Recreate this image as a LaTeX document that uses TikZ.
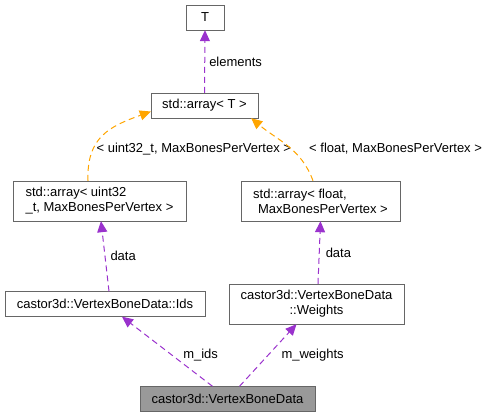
\documentclass[tikz,border=0pt]{standalone}
\usepackage{fontspec}
\setmainfont{Liberation Sans}
\usepackage{tikz}
\usetikzlibrary{arrows.meta,positioning}
\definecolor{edgepurple}{HTML}{9A32CD}
\definecolor{edgeorange}{HTML}{FFA500}
\definecolor{boxgray}{HTML}{666666}
\definecolor{focusfill}{HTML}{999999}
\tikzset{
  cls/.style={rectangle,draw=boxgray,fill=white,inner sep=2pt,minimum height=25pt},
  cls2/.style={cls,minimum height=40pt},
  focus/.style={cls,fill=focusfill},
  uses/.style={edgepurple,line width=1pt,dash pattern=on 6pt off 4pt,
    -{Triangle[length=11pt,width=10pt]}},
  tmpl/.style={edgeorange,line width=1pt,dash pattern=on 6pt off 4pt,
    -{Triangle[length=11pt,width=10pt]}},
  lbl/.style={inner sep=1pt,text=black}
}

\begin{document}
\begin{tikzpicture}[x=1pt, y=-1pt,
  every node/.style={font=\fontsize{13}{15}\selectfont}]
  \useasboundingbox (0,0) rectangle (492,417);

  % --- classes ---
  \node[cls, minimum width=38pt] (T) at (205,17.5) {T};
  \node[cls, minimum width=107pt] (arrT) at (204.5,105.5) {std::array< T >};
  \node[cls2, minimum width=173pt, align=left] (uarr) at (99.5,201)
    {std::array< uint32\\\_t, MaxBonesPerVertex >};
  \node[cls2, minimum width=159pt, align=left] (farr) at (320.5,201)
    {std::array< float,\\\hspace*{5pt}MaxBonesPerVertex >};
  \node[cls, minimum width=200pt] (ids) at (105,304)
    {castor3d::VertexBoneData::Ids};
  \node[cls2, minimum width=175pt, align=center] (wts) at (316.5,304)
    {castor3d::VertexBoneData\\::Weights};
  \node[focus, minimum width=175pt] (vbd) at (227.5,399)
    {castor3d::VertexBoneData};

  % --- members ---
  \draw[uses] (arrT.north) -- (T.south)
    node[lbl, midway, right=3pt] {elements};
  \draw[uses] ([xshift=4pt]ids.north) -- ([xshift=1.5pt]uarr.south)
    node[lbl, midway, right=4pt] {data};
  \draw[uses] ([xshift=1.5pt]wts.north) -- (farr.south)
    node[lbl, midway, right=5pt] {data};
  \draw[uses] ([xshift=-15pt]vbd.north) -- ([xshift=17pt]ids.south)
    node[lbl, pos=0.45, right=10pt] {m\_ids};
  \draw[uses] ([xshift=12pt]vbd.north) -- ([xshift=-20pt]wts.south)
    node[lbl, midway, right=12pt] {m\_weights};

  % --- template instances ---
  \draw[tmpl] ([xshift=-11.5pt]uarr.north) to[out=92, in=200, looseness=1.2]
    node[lbl, pos=0.3, anchor=west, xshift=2pt] {< uint32\_t, MaxBonesPerVertex >}
    ([yshift=-6pt]arrT.west);
  \draw[tmpl] ([xshift=-7.5pt]farr.north) to[out=110, in=-40]
    node[lbl, pos=0.45, anchor=west, xshift=17pt] {< float, MaxBonesPerVertex >}
    ([xshift=-7pt]arrT.south east);
\end{tikzpicture}
\end{document}
